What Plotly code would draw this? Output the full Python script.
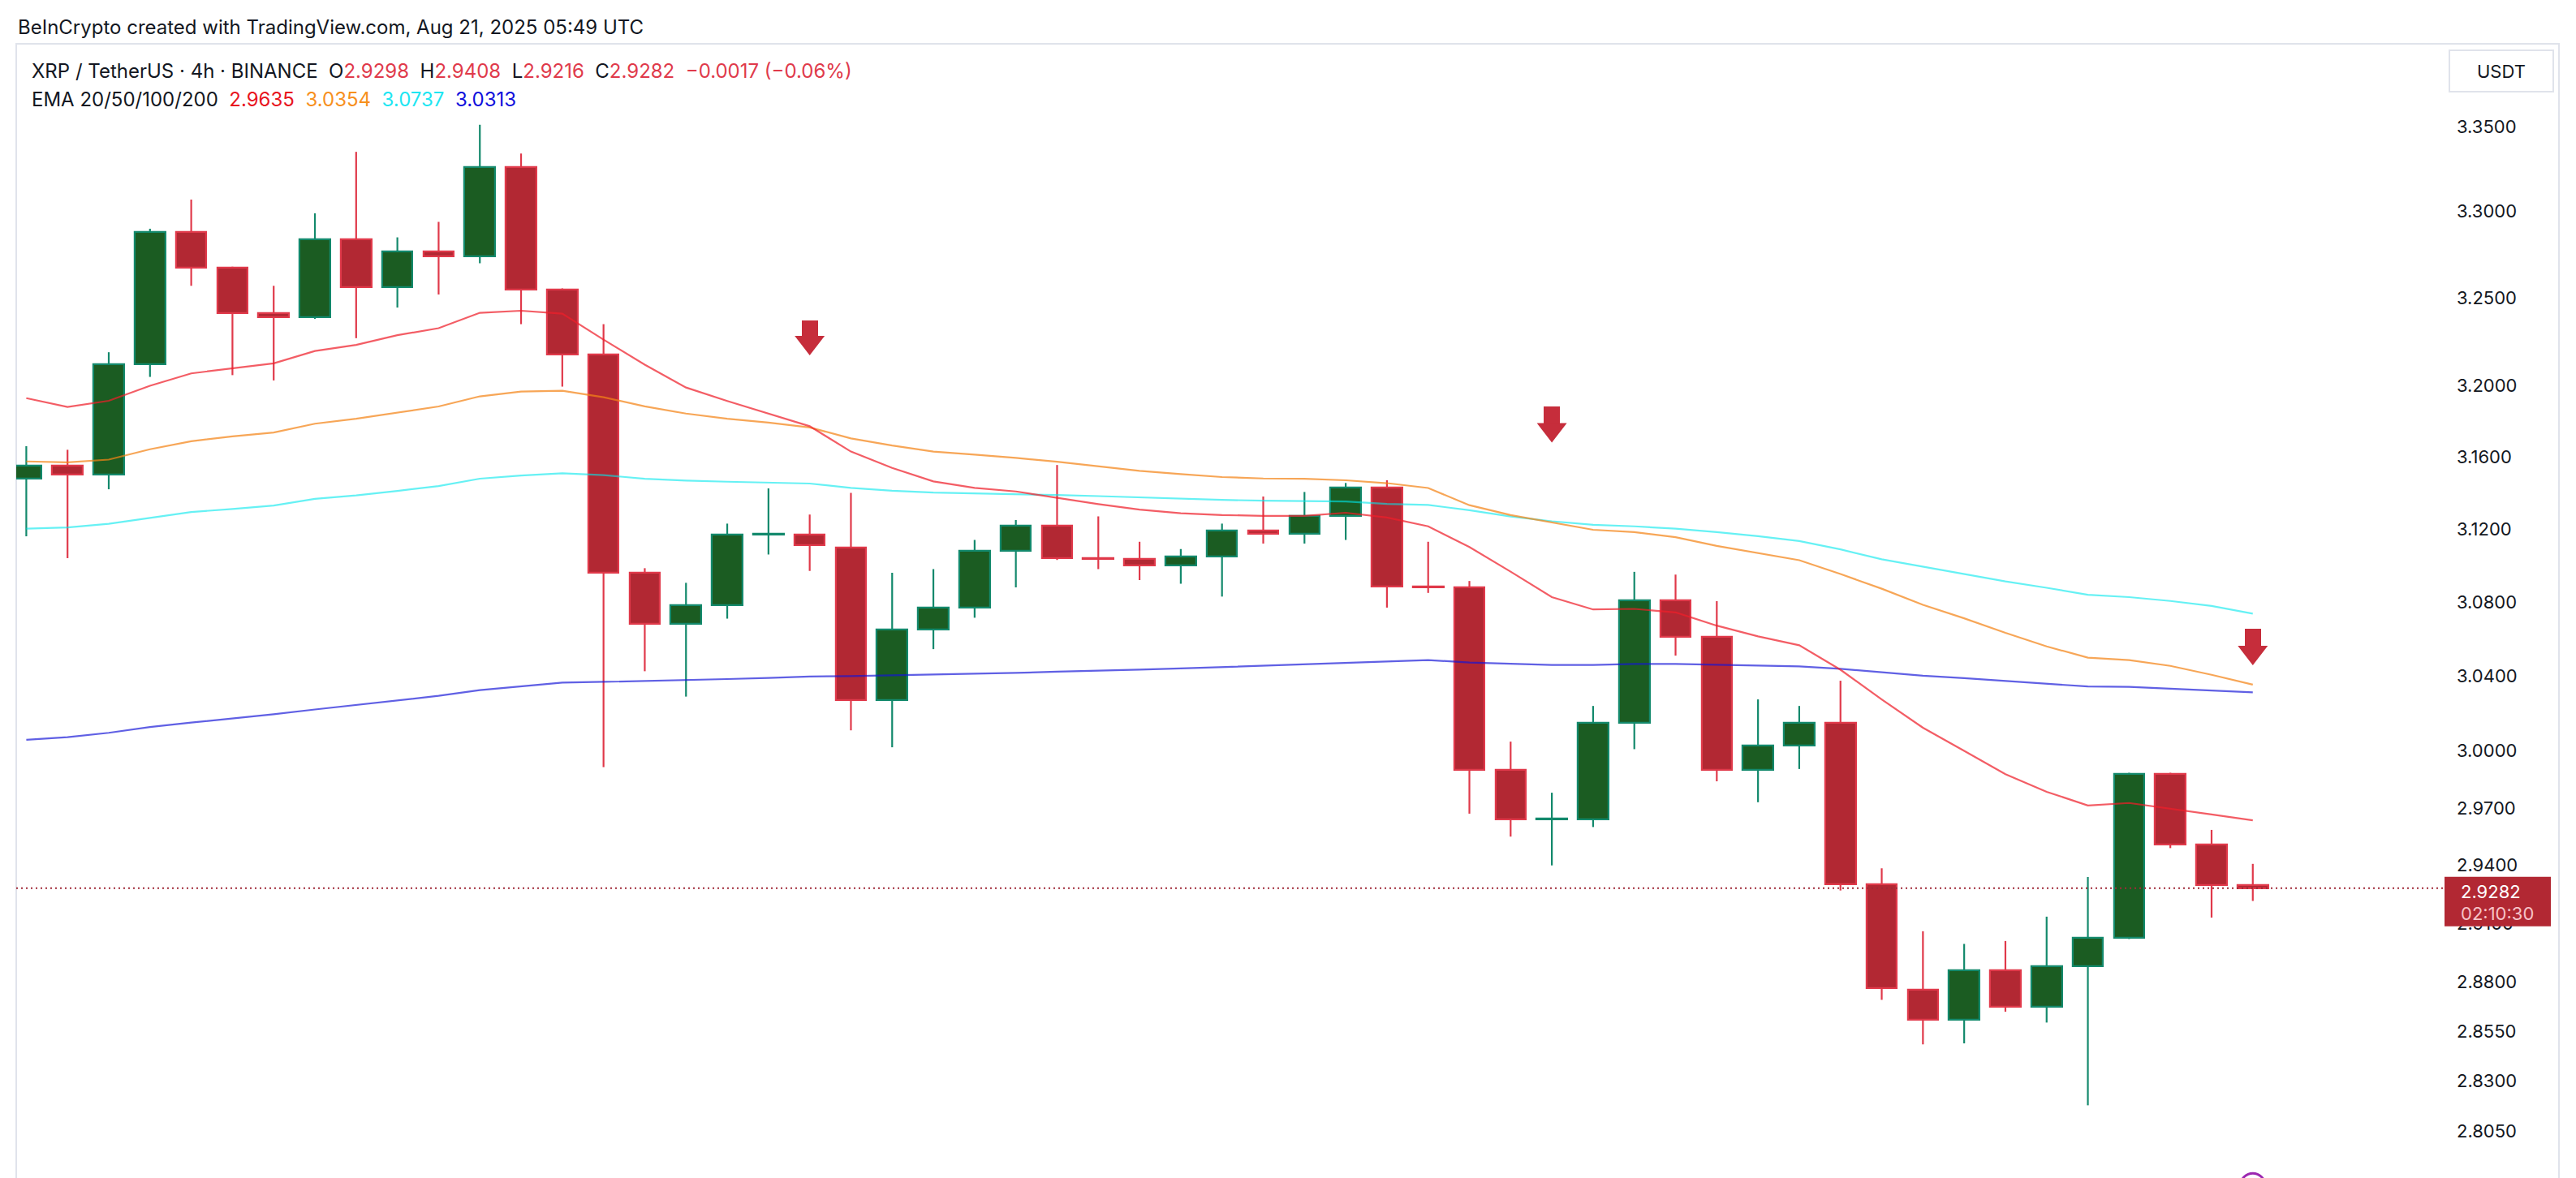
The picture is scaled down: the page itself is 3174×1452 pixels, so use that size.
import math
import plotly.graph_objects as go

# ---------------- data ----------------
opens = [3.148, 3.155, 3.150, 3.212, 3.288, 3.2675, 3.2415, 3.239, 3.284, 3.256,
         3.277, 3.274, 3.326, 3.255, 3.2177, 3.096, 3.068, 3.0785, 3.117, 3.117,
         3.110, 3.027, 3.065, 3.077, 3.108, 3.122, 3.104, 3.1035, 3.100, 3.105,
         3.119, 3.1175, 3.127, 3.143, 3.0885, 3.088, 2.990, 2.964, 2.964, 3.015,
         3.081, 3.061, 2.990, 3.003, 3.015, 2.930, 2.876, 2.861, 2.886, 2.8675,
         2.888, 2.9025, 2.988, 2.951, 2.9298]
highs = [3.166, 3.164, 3.219, 3.290, 3.307, 3.268, 3.257, 3.299, 3.335, 3.285,
         3.294, 3.351, 3.334, 3.2555, 3.235, 3.0985, 3.0905, 3.123, 3.1425, 3.128,
         3.140, 3.096, 3.098, 3.114, 3.125, 3.1555, 3.127, 3.113, 3.109, 3.123,
         3.138, 3.1405, 3.1455, 3.147, 3.113, 3.0915, 3.005, 2.978, 3.024, 3.0965,
         3.095, 3.0805, 3.0275, 3.024, 3.0375, 2.9385, 2.906, 2.8995, 2.901, 2.9135,
         2.934, 2.9885, 2.9885, 2.9585, 2.9408]
lows = [3.116, 3.104, 3.142, 3.205, 3.257, 3.206, 3.203, 3.238, 3.227, 3.2445,
        3.252, 3.270, 3.235, 3.1995, 2.9915, 3.0426, 3.029, 3.071, 3.106, 3.097,
        3.011, 3.002, 3.0545, 3.0715, 3.088, 3.103, 3.098, 3.092, 3.090, 3.083,
        3.112, 3.112, 3.114, 3.077, 3.085, 2.967, 2.955, 2.940, 2.960, 3.001,
        3.051, 2.984, 2.973, 2.9905, 2.927, 2.871, 2.8485, 2.849, 2.865, 2.8595,
        2.818, 2.902, 2.949, 2.913, 2.9216]
closes = [3.155, 3.150, 3.212, 3.288, 3.2675, 3.2415, 3.239, 3.284, 3.256, 3.277,
          3.274, 3.326, 3.255, 3.2177, 3.096, 3.068, 3.0785, 3.117, 3.1175, 3.111,
          3.027, 3.065, 3.077, 3.108, 3.122, 3.104, 3.1035, 3.100, 3.105, 3.119,
          3.1175, 3.127, 3.143, 3.0885, 3.088, 2.990, 2.964, 2.9645, 3.015, 3.081,
          3.061, 2.990, 3.003, 3.015, 2.930, 2.877, 2.861, 2.886, 2.8675, 2.888,
          2.9025, 2.988, 2.951, 2.9298, 2.9282]

ema20 = [3.193, 3.188, 3.1915, 3.200, 3.207, 3.2097, 3.2127, 3.2197, 3.2232, 3.2287,
         3.2327, 3.2415, 3.2427, 3.241, 3.2262, 3.2119, 3.199, 3.1914, 3.1843, 3.1772,
         3.163, 3.1539, 3.1464, 3.1428, 3.1408, 3.1372, 3.1338, 3.1307, 3.1287, 3.1277,
         3.1273, 3.1273, 3.129, 3.1264, 3.1215, 3.1101, 3.0966, 3.0827, 3.076, 3.0763,
         3.0744, 3.0672, 3.0614, 3.0566, 3.0434, 3.0275, 3.0124, 3.0001, 2.9878, 2.9785,
         2.9713, 2.9726, 2.9697, 2.9666, 2.9635]
ema50 = [3.1575, 3.157, 3.1585, 3.1643, 3.1688, 3.1715, 3.1737, 3.1786, 3.1814, 3.185,
         3.1883, 3.194, 3.1967, 3.1972, 3.1935, 3.1884, 3.1843, 3.1814, 3.1792, 3.1765,
         3.1704, 3.1664, 3.163, 3.1613, 3.1595, 3.1573, 3.1549, 3.1522, 3.1504, 3.1488,
         3.148, 3.1478, 3.147, 3.1454, 3.1427, 3.1332, 3.1277, 3.1237, 3.1196, 3.1183,
         3.1155, 3.1107, 3.1067, 3.1029, 3.0953, 3.0873, 3.0785, 3.0712, 3.0633, 3.056,
         3.0499, 3.0486, 3.0455, 3.0407, 3.0354]
ema100 = [3.1202, 3.1209, 3.1229, 3.1262, 3.1294, 3.1311, 3.133, 3.1367, 3.1386, 3.1411,
          3.1438, 3.1479, 3.1496, 3.1509, 3.1499, 3.1478, 3.1468, 3.1462, 3.1458, 3.1452,
          3.1428, 3.1412, 3.1402, 3.1398, 3.1392, 3.1388, 3.1382, 3.1374, 3.1368, 3.1361,
          3.1357, 3.1353, 3.1352, 3.1339, 3.1333, 3.1304, 3.1269, 3.1243, 3.1223, 3.1215,
          3.1202, 3.1183, 3.1161, 3.1134, 3.1088, 3.1034, 3.0994, 3.0953, 3.0913, 3.0878,
          3.084, 3.0827, 3.0806, 3.0779, 3.0737]
ema200 = [3.006, 3.0074, 3.0097, 3.0128, 3.0151, 3.0172, 3.0196, 3.0221, 3.0245, 3.0271,
          3.0294, 3.0325, 3.0344, 3.0365, 3.0369, 3.0374, 3.0376, 3.0384, 3.039, 3.0398,
          3.04, 3.0404, 3.0408, 3.0413, 3.0417, 3.0424, 3.0428, 3.0435, 3.0441, 3.0448,
          3.0457, 3.0465, 3.0472, 3.0479, 3.0486, 3.0473, 3.0465, 3.046, 3.046, 3.0465,
          3.0465, 3.046, 3.0455, 3.0452, 3.0439, 3.042, 3.0402, 3.0389, 3.0375, 3.036,
          3.0344, 3.0342, 3.0333, 3.0325, 3.0313]

arrow_idx = [19, 37, 54]
arrow_top = [3.2371, 3.1881, 3.0655]
arrow_tip = [3.2177, 3.1683, 3.0458]

event_idx = [54]
event_price = [2.7784]

tick_vals = [3.35, 3.30, 3.25, 3.20, 3.16, 3.12, 3.08, 3.04, 3.00, 2.97, 2.94,
             2.91, 2.88, 2.855, 2.83, 2.805]
tick_text = ["3.3500", "3.3000", "3.2500", "3.2000", "3.1600", "3.1200", "3.0800",
             "3.0400", "3.0000", "2.9700", "2.9400", "2.9100", "2.8800", "2.8550",
             "2.8300", "2.8050"]

header_text = "BeInCrypto created with TradingView.com, Aug 21, 2025 05:49 UTC"
symbol_text = "XRP / TetherUS · 4h · BINANCE"
change_text = "−0.0017 (−0.06%)"
ema_label = "EMA 20/50/100/200"
countdown_text = "02:10:30"
currency_text = "USDT"

# ---------------- styling ----------------
W, H = 3174, 1452
ML, MR, MT, MB = 20, 162, 54, 0
PW = W - ML - MR
PH = H - MT - MB

GREEN_FILL = "#1b5c22"
GREEN_LINE = "#13896c"
RED_FILL = "#b22833"
RED_LINE = "#e0394a"
TEXT = "#131722"
FONT = "Inter"
LEG_SIZE = 24

C_EMA20 = "rgba(238,30,42,0.72)"
C_EMA50 = "rgba(244,132,22,0.72)"
C_EMA100 = "rgba(0,232,236,0.6)"
C_EMA200 = "rgba(20,20,215,0.68)"

n = len(closes)
xs = list(range(n))
x_min, x_max = -0.244, 58.65

fig = go.Figure()

# wicks (split so they do not cross the bodies)
for is_up, col in ((True, GREEN_LINE), (False, RED_LINE)):
    wx, wy = [], []
    for i in xs:
        o, h, l, c = opens[i], highs[i], lows[i], closes[i]
        if (c >= o) != is_up:
            continue
        top, bot = max(o, c), min(o, c)
        wx += [i, i, None, i, i, None]
        wy += [h, top, None, bot, l, None]
    fig.add_trace(go.Scatter(x=wx, y=wy, mode="lines",
                             line=dict(color=col, width=2.2),
                             hoverinfo="skip"))

# bodies
for is_up, fill, col in ((True, GREEN_FILL, GREEN_LINE), (False, RED_FILL, RED_LINE)):
    bx, bbase, blen = [], [], []
    for i in xs:
        o, c = opens[i], closes[i]
        if (c >= o) != is_up:
            continue
        bx.append(i)
        bbase.append(min(o, c))
        blen.append(abs(c - o))
    fig.add_trace(go.Bar(x=bx, y=blen, base=bbase, width=0.74,
                         marker=dict(color=fill, line=dict(color=col, width=2.2)),
                         hoverinfo="skip"))

# arrow stems (bars)
stem_base = [t * (p / t) ** 0.5 for t, p in zip(arrow_top, arrow_tip)]
fig.add_trace(go.Bar(x=arrow_idx, base=stem_base,
                     y=[t - b for t, b in zip(arrow_top, stem_base)],
                     width=0.39, marker=dict(color="#c62d3b", line=dict(width=0)),
                     hoverinfo="skip"))

# EMA lines
for vals, col in ((ema200, C_EMA200), (ema100, C_EMA100), (ema50, C_EMA50), (ema20, C_EMA20)):
    fig.add_trace(go.Scatter(x=xs, y=vals, mode="lines",
                             line=dict(color=col, width=2.2), hoverinfo="skip"))

# last price dotted line
fig.add_trace(go.Scatter(x=[x_min, x_max], y=[closes[-1], closes[-1]], mode="lines",
                         line=dict(color="#a02a38", width=2, dash="2px,4px"),
                         hoverinfo="skip"))

# arrow heads
head_y = [t * (p / t) ** 0.645 for t, p in zip(arrow_top, arrow_tip)]
fig.add_trace(go.Scatter(x=arrow_idx, y=head_y, mode="markers",
                         marker=dict(symbol="triangle-down", size=32, color="#c62d3b",
                                     line=dict(width=0)),
                         hoverinfo="skip"))

# event marker at bottom
fig.add_trace(go.Scatter(x=event_idx, y=event_price, mode="markers",
                         marker=dict(symbol="circle-open", size=30, color="#9c27b0",
                                     line=dict(width=3, color="#9c27b0")),
                         hoverinfo="skip"))

y_lo = math.log10(3.35) - (H - 155.85) / 16065.0
y_hi = math.log10(3.35) + (155.85 - MT) / 16065.0

fig.update_layout(
    width=W, height=H,
    margin=dict(l=ML, r=MR, t=MT, b=MB),
    paper_bgcolor="white", plot_bgcolor="white",
    showlegend=False, barmode="overlay", bargap=0,
    font=dict(family=FONT, color=TEXT, size=22),
    xaxis=dict(range=[x_min, x_max], visible=False, fixedrange=True),
    yaxis=dict(type="log", range=[y_lo, y_hi], side="right",
               tickvals=tick_vals, ticktext=tick_text, ticks="",
               showgrid=False, zeroline=False, showline=False,
               tickfont=dict(family=FONT, size=22, color=TEXT),
               ticklabelstandoff=14, fixedrange=True),
)

def px_x(px):
    return (px - ML) / PW

def px_y(py):
    return 1 - (py - MT) / PH

# pixel row of the last close, from the log axis mapping
ly = math.log10(closes[-1])
price_py = MT + (y_hi - ly) / (y_hi - y_lo) * PH

shapes = []
# pane border
shapes.append(dict(type="rect", xref="paper", yref="paper",
                   x0=0, x1=px_x(3153), y0=px_y(1470), y1=1,
                   line=dict(color="#e0e3eb", width=2), fillcolor="rgba(0,0,0,0)",
                   layer="below"))
# USDT button
shapes.append(dict(type="rect", xref="paper", yref="paper",
                   x0=px_x(3018), x1=px_x(3146), y0=px_y(113), y1=px_y(62),
                   line=dict(color="#e0e3eb", width=2), fillcolor="white"))
# last-price label box
shapes.append(dict(type="rect", xref="paper", yref="paper",
                   x0=1.0, x1=px_x(3143), y0=px_y(price_py + 47), y1=px_y(price_py - 14),
                   line=dict(width=0), fillcolor=RED_FILL, layer="above"))
fig.update_layout(shapes=shapes)

NB = "\u00a0"
red_v = "#e03a4b"
def v(val, col):
    return f"<span style='color:{col}'>{val}</span>"

line1 = (symbol_text + NB * 2 +
         "O" + v(f"{opens[-1]:.4f}", red_v) + NB * 2 +
         "H" + v(f"{highs[-1]:.4f}", red_v) + NB * 2 +
         "L" + v(f"{lows[-1]:.4f}", red_v) + NB * 2 +
         "C" + v(f"{closes[-1]:.4f}", red_v) + NB * 2 +
         v(change_text, red_v))
line2 = (ema_label + NB * 2 +
         v(f"{ema20[-1]:.4f}", "#e8141e") + NB * 2 +
         v(f"{ema50[-1]:.4f}", "#f7901e") + NB * 2 +
         v(f"{ema100[-1]:.4f}", "#1ee6f2") + NB * 2 +
         v(f"{ema200[-1]:.4f}", "#1010dc"))

annos = [
    dict(text=header_text, xref="paper", yref="paper", x=0, y=px_y(33),
         xanchor="left", yanchor="middle", showarrow=False,
         font=dict(family=FONT, size=LEG_SIZE, color=TEXT)),
    dict(text=line1, xref="paper", yref="paper", x=px_x(36.5), y=px_y(87),
         xanchor="left", yanchor="middle", showarrow=False,
         font=dict(family=FONT, size=LEG_SIZE, color=TEXT)),
    dict(text=line2, xref="paper", yref="paper", x=px_x(36.5), y=px_y(122),
         xanchor="left", yanchor="middle", showarrow=False,
         font=dict(family=FONT, size=LEG_SIZE, color=TEXT)),
    dict(text=currency_text, xref="paper", yref="paper", x=px_x(3082), y=px_y(88),
         xanchor="center", yanchor="middle", showarrow=False,
         font=dict(family=FONT, size=22, color=TEXT)),
    dict(text=f"{closes[-1]:.4f}", xref="paper", yref="paper", x=px_x(3030),
         y=px_y(price_py + 4), xanchor="left", yanchor="middle", showarrow=False,
         font=dict(family=FONT, size=22, color="white")),
    dict(text=countdown_text, xref="paper", yref="paper", x=px_x(3030),
         y=px_y(price_py + 31), xanchor="left", yanchor="middle", showarrow=False,
         font=dict(family=FONT, size=22, color="#f6c3c8")),
]
fig.update_layout(annotations=annos)

fig.write_html("out.html")
